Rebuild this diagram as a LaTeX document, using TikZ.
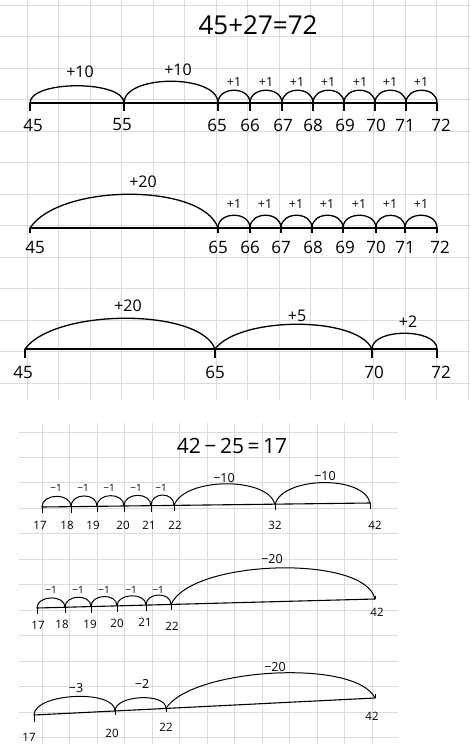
\documentclass[tikz,border=0pt]{standalone}
\usepackage{fontspec}
\setmainfont{Open Sans}
\begin{document}
\begin{tikzpicture}[x=1pt,y=-1pt,
  gridline/.style={draw=black!14,line width=0.6pt},
  axisA/.style={line width=1.5pt,line cap=round},
  axisB/.style={line width=1.1pt,line cap=round},
  jumpA/.style={line width=1.3pt},
  jumpB/.style={line width=1.0pt},
  tickA/.style={line width=1.2pt},
  tickB/.style={line width=0.9pt},
  title/.style={inner sep=0pt,font=\fontsize{26}{26}\selectfont},
  titleB/.style={inner sep=0pt,font=\fontsize{21}{21}\selectfont},
  numA/.style={inner sep=0pt,font=\fontsize{17}{17}\selectfont},
  bigA/.style={inner sep=0pt,font=\fontsize{16}{16}\selectfont},
  smallA/.style={inner sep=0pt,font=\fontsize{12.5}{12.5}\selectfont},
  numB/.style={inner sep=0pt,font=\fontsize{11.5}{11.5}\selectfont},
  bigB/.style={inner sep=0pt,font=\fontsize{12.5}{12.5}\selectfont},
  smallB/.style={inner sep=0pt,font=\fontsize{10}{10}\selectfont}]
\useasboundingbox (0,0) rectangle (470,744);
\fill[white] (0,0) rectangle (470,744);
% ---------- top paper grid ----------
\foreach \gx in {27,58.5,90,121.5,153,184.5,216,247.5,279,310.5,342,373.5,405,436.5,468}
  \draw[gridline] (\gx,0) -- (\gx,400);
\foreach \gy in {5,36.5,68,99.5,131,162.5,194,225.5,257,288.5,320,351.5,383}
  \draw[gridline] (0,\gy) -- (470,\gy);
% ---------- bottom paper grid ----------
\begin{scope}
\clip (19,423) rectangle (398,744);
\foreach \gx in {42,69.5,97,124.5,152,179.5,207,234.5,262,289.5,317,344.5,372}
  \draw[gridline] (\gx,423) -- (\gx,744);
\foreach \gy in {432,457,482,508,533,559,584,610,635,661,686,712,737}
  \draw[gridline] (19,\gy) -- (398,\gy);
\end{scope}

% ================= 45+27=72 =================
\node[title] (t1) at (258,25) {45+27=72};

% ---- line 1 ----
\foreach \n/\x in {45/30,55/124,65/218,66/250,67/282,68/313,69/344,70/375,71/406,72/437}
  \coordinate (a\n) at (\x,103);
\draw[axisA] (a45) -- (a72);
\foreach \n in {45,55,65,66,67,68,69,70,71,72}
  \draw[tickA] (a\n) -- ++(0,8);
\draw[jumpA] (a45) .. controls +(0,-23) and +(0,-23) .. (a55);
\draw[jumpA] (a55) .. controls +(0,-29) and +(0,-29) .. (a65);
\foreach \p/\q in {65/66,66/67,67/68,68/69,69/70,70/71,71/72}
  \draw[jumpA] (a\p) .. controls +(0,-17) and +(0,-17) .. (a\q);
\node[bigA] (l1a) at (80,72) {+10};
\node[bigA] (l1b) at (178,70) {+10};
\foreach \i/\x in {1/234,2/266,3/297,4/328,5/360,6/390,7/421}
  \node[smallA] (l1s\i) at (\x,82) {+1};
\foreach \n/\x in {45/33,55/122,65/217,66/250,67/283,68/313,69/345,70/376,71/405,72/441}
  \node[numA] (n1\n) at (\x,125) {\n};

% ---- line 2 ----
\foreach \n/\x in {45/30,65/218,66/250,67/281,68/312,69/343,70/376,71/405,72/437}
  \coordinate (b\n) at (\x,228);
\draw[axisA] (b45) -- (b72);
\foreach \n in {45,65,66,67,68,69,70,71,72}
  \draw[tickA] (b\n) -- ++(0,5);
\draw[jumpA] (b45) .. controls (60,183) and (203,183) .. (b65);
\foreach \p/\q in {65/66,66/67,67/68,68/69,69/70,70/71,71/72}
  \draw[jumpA] (b\p) .. controls +(0,-17) and +(0,-17) .. (b\q);
\node[bigA] (l2a) at (143,182) {+20};
\foreach \i/\x in {1/234,2/265,3/296,4/327,5/359,6/390,7/421}
  \node[smallA] (l2s\i) at (\x,204) {+1};
\foreach \n/\x in {45/35,65/218,66/250,67/281,68/313,69/345,70/376,71/405,72/440}
  \node[numA] (n2\n) at (\x,247) {\n};

% ---- line 3 ----
\foreach \n/\x in {45/25,65/215,70/372,72/437}
  \coordinate (c\n) at (\x,349);
\draw[axisA] (c45) -- (c72);
\foreach \n in {45,65,70,72}
  \draw[tickA] (c\n) -- ++(0,9);
\draw[jumpA] (c45) .. controls (55,308) and (200,308) .. (c65);
\draw[jumpA] (c65) .. controls (240,316) and (357,316) .. (c70);
\draw[jumpA] (c70) .. controls +(0,-21) and +(0,-21) .. (c72);
\node[bigA] (l3a) at (128,306) {+20};
\node[bigA] (l3b) at (297,316) {+5};
\node[bigA] (l3c) at (408,322) {+2};
\foreach \n/\x in {45/23,65/215,70/374,72/441}
  \node[numA] (n3\n) at (\x,372) {\n};

% ================= 42-25=17 =================
\node[titleB] (t2) at (232,446) {42\,−\,25\,=\,17};

% ---- line 4 ----
\foreach \n/\x/\y in {17/42/507,18/71/506.6,19/97/506.3,20/124/506,21/151/505.7,22/174/505.4,32/275/504.2,42/370/503}
  \coordinate (d\n) at (\x,\y);
\draw[axisB] (d17) -- (d42);
\foreach \n in {17,18,19,20,21,22,32,42}
  \draw[tickB] (d\n) -- ++(0,6);
\foreach \p/\q in {17/18,18/19,19/20,20/21,21/22}
  \draw[jumpB] (d\p) .. controls +(0,-14) and +(0,-14) .. (d\q);
\draw[jumpB] (d22) .. controls +(10,-28) and +(-8,-28) .. (d32);
\draw[jumpB] (d32) .. controls +(8,-28) and +(-6,-28) .. (d42);
\foreach \i/\x in {1/56,2/83,3/109,4/136,5/161}
  \node[smallB] (l4s\i) at (\x,488) {−1};
\node[bigB] (l4a) at (224,478) {−10};
\node[bigB] (l4b) at (325,476) {−10};
\foreach \n/\x in {17/40,18/67,19/93,20/123,21/149,22/175,32/275,42/375}
  \node[numB] (n4\n) at (\x,525) {\n};

% ---- line 5 ----
\foreach \n/\x/\y in {17/37/608,18/65/607.3,19/91/606.6,20/117/605.9,21/146/605.1,22/171/604.4,42/375/599}
  \coordinate (e\n) at (\x,\y);
\draw[axisB] (e17) -- (e42);
\foreach \n in {17,18,19,20,21,22}
  \draw[tickB] (e\n) -- ++(0,6);
\draw[tickB] (e42) -- ++(0,-3);
\foreach \p/\q in {17/18,18/19,19/20,20/21,21/22}
  \draw[jumpB] (e\p) .. controls +(0,-13) and +(0,-13) .. (e\q);
\draw[jumpB] (e22) .. controls (191,559.4) and (365,554) .. (e42);
\foreach \i/\x in {1/51,2/78,3/104,4/131,5/158}
  \node[smallB] (l5s\i) at (\x,590) {−1};
\node[bigB] (l5a) at (272,559) {−20};
\foreach \n/\x/\y in {17/38/625,18/62/624,19/90/624,20/117/623,21/145/622,22/172/626,42/377/612}
  \node[numB] (n5\n) at (\x,\y) {\n};

% ---- line 6 ----
\foreach \n/\x/\y in {17/34/715,20/115/711,22/166/708.4,42/375/698}
  \coordinate (f\n) at (\x,\y);
\draw[axisB] (f17) -- (f42);
\draw[tickB] (f17) -- ++(0,7);
\draw[tickB] (f20) -- ++(0,4);
\draw[tickB] (f22) -- ++(0,4);
\draw[tickB] (f42) -- ++(0,-4);
\draw[jumpB] (f17) .. controls +(0,-22) and +(0,-22) .. (f20);
\draw[jumpB] (f20) .. controls +(0,-16) and +(0,-16) .. (f22);
\draw[jumpB] (f22) .. controls (191,668.4) and (355,658) .. (f42);
\node[bigB] (l6a) at (76,688) {−3};
\node[bigB] (l6b) at (142,684) {−2};
\node[bigB] (l6c) at (275,667) {−20};
\node[numB] (n617) at (29,737) {17};
\node[numB] (n620) at (112,733) {20};
\node[numB] (n622) at (166,727) {22};
\node[numB] (n642) at (372,716) {42};
\end{tikzpicture}
\end{document}
